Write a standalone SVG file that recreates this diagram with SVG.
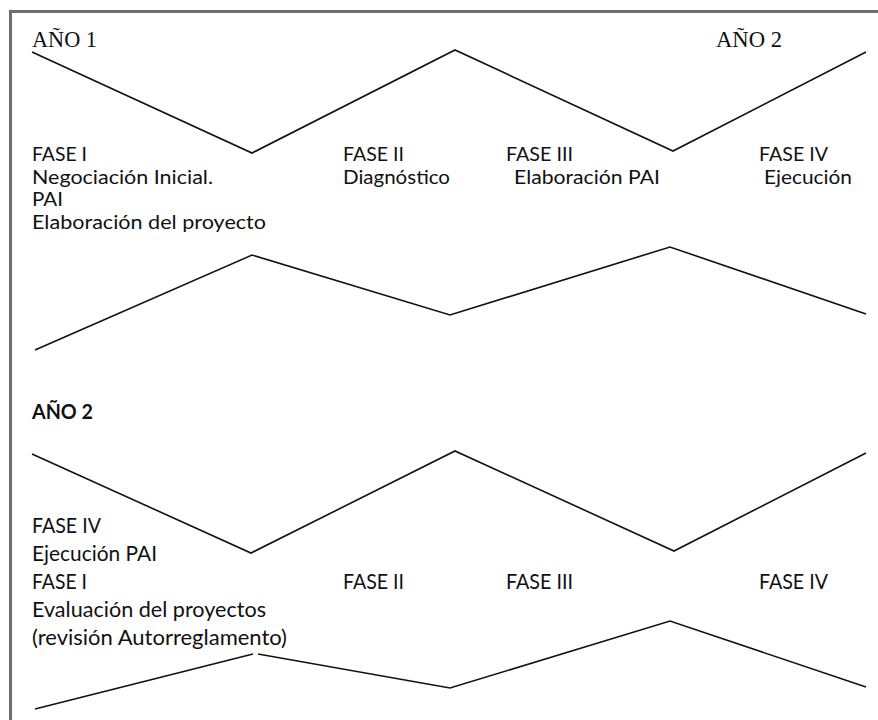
<svg xmlns="http://www.w3.org/2000/svg" width="878" height="720" viewBox="0 0 878 720">
  <style>
    .frame { fill: none; stroke: #6e6e6e; stroke-width: 3; }
    .zig { fill: none; stroke: #111; stroke-width: 1.6; stroke-linejoin: miter; }
    .year { font-family: "Liberation Serif", "Times New Roman", serif; font-size: 22.5px; fill: #111; }
    .lbl { font-family: Lato, "Noto Sans", sans-serif; font-size: 21.5px; fill: #111; }
    .tight { font-size: 19.5px; }
    .bold { font-weight: bold; }
  </style>
  <rect width="878" height="720" fill="#ffffff"/>
  <!-- page frame: only the top and left edges are inside the canvas -->
  <path class="frame" d="M10.5,720 V11.5 H878"/>

  <!-- zigzag bands -->
  <g id="connectors">
    <polyline class="zig" points="32,52 252,153 455,50 673,151 866,52"/>
    <polyline class="zig" points="35,350 252,255 450,315 670,247 866,314"/>
    <polyline class="zig" points="32,454 251,553 455,451 674,551 866,453"/>
    <polyline class="zig" points="35,709 253,654"/>
    <polyline class="zig" points="258,654 450,688 670,621 866,687"/>
  </g>

  <!-- year 1 -->
  <g id="year1">
    <text class="year" x="32" y="47" textLength="65" lengthAdjust="spacingAndGlyphs">AÑO 1</text>
    <text class="year" x="716" y="47" textLength="66" lengthAdjust="spacingAndGlyphs">AÑO 2</text>
  </g>
  <g id="phase1-y1">
    <text class="lbl tight" x="32" y="161" textLength="55" lengthAdjust="spacingAndGlyphs">FASE I</text>
    <text class="lbl tight" x="32" y="183.5" textLength="181" lengthAdjust="spacingAndGlyphs">Negociación Inicial.</text>
    <text class="lbl tight" x="32" y="206" textLength="31" lengthAdjust="spacingAndGlyphs">PAI</text>
    <text class="lbl tight" x="32" y="228.5" textLength="234" lengthAdjust="spacingAndGlyphs">Elaboración del proyecto</text>
  </g>
  <g id="phase2-y1">
    <text class="lbl tight" x="343" y="161" textLength="61" lengthAdjust="spacingAndGlyphs">FASE II</text>
    <text class="lbl tight" x="343" y="183.5" textLength="107" lengthAdjust="spacingAndGlyphs">Diagnóstico</text>
  </g>
  <g id="phase3-y1">
    <text class="lbl tight" x="506" y="161" textLength="67" lengthAdjust="spacingAndGlyphs">FASE III</text>
    <text class="lbl tight" x="514" y="183.5" textLength="146" lengthAdjust="spacingAndGlyphs">Elaboración PAI</text>
  </g>
  <g id="phase4-y1">
    <text class="lbl tight" x="759" y="161" textLength="69" lengthAdjust="spacingAndGlyphs">FASE IV</text>
    <text class="lbl tight" x="764" y="183.5" textLength="88" lengthAdjust="spacingAndGlyphs">Ejecución</text>
  </g>

  <!-- year 2 -->
  <g id="year2">
    <text class="lbl bold" x="32" y="419" textLength="61" lengthAdjust="spacingAndGlyphs">AÑO 2</text>
  </g>
  <g id="phase1-y2">
    <text class="lbl" x="32" y="533" textLength="69" lengthAdjust="spacingAndGlyphs">FASE IV</text>
    <text class="lbl" x="32" y="561" textLength="125" lengthAdjust="spacingAndGlyphs">Ejecución PAI</text>
    <text class="lbl" x="32" y="589" textLength="55" lengthAdjust="spacingAndGlyphs">FASE I</text>
    <text class="lbl" x="32" y="617" textLength="234" lengthAdjust="spacingAndGlyphs">Evaluación del proyectos</text>
    <text class="lbl" x="32" y="645" textLength="255" lengthAdjust="spacingAndGlyphs">(revisión Autorreglamento)</text>
  </g>
  <g id="phase2-y2">
    <text class="lbl" x="343" y="589" textLength="61" lengthAdjust="spacingAndGlyphs">FASE II</text>
  </g>
  <g id="phase3-y2">
    <text class="lbl" x="506" y="589" textLength="67" lengthAdjust="spacingAndGlyphs">FASE III</text>
  </g>
  <g id="phase4-y2">
    <text class="lbl" x="759" y="589" textLength="69" lengthAdjust="spacingAndGlyphs">FASE IV</text>
  </g>
</svg>
